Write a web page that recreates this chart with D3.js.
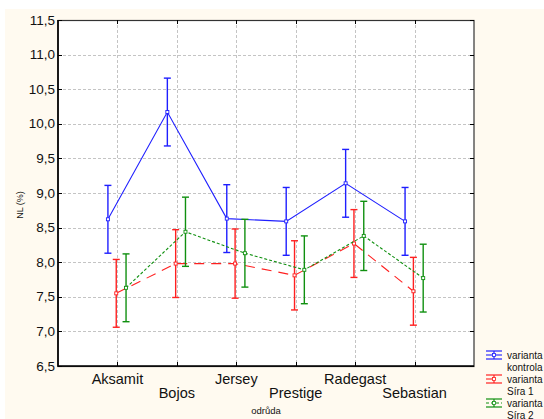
<!DOCTYPE html>
<html>
<head>
<meta charset="utf-8">
<script src="https://cdn.jsdelivr.net/npm/d3@7"></script>
<style>
  body { margin: 0; background: #ffffff; }
  svg { display: block; font-family: "Liberation Sans", Arial, sans-serif; }
</style>
</head>
<body>
<div class="chart"></div>
<script>
"use strict";

const categories = ["Aksamit", "Bojos", "Jersey", "Prestige", "Radegast", "Sebastian"];
const kontrola = [8.62, 10.17, 8.63, 8.59, 9.14, 8.59];
const sira1 = [7.55, 7.98, 7.98, 7.81, 8.27, 7.58];
const sira2 = [7.63, 8.44, 8.13, 7.89, 8.38, 7.77];
const err_kontrola = [0.49, 0.49, 0.49, 0.49, 0.49, 0.49];
const err_sira1 = [0.49, 0.49, 0.50, 0.50, 0.49, 0.49];
const err_sira2 = [0.49, 0.50, 0.49, 0.49, 0.50, 0.49];
const y_ticks = [6.5, 7.0, 7.5, 8.0, 8.5, 9.0, 9.5, 10.0, 10.5, 11.0, 11.5];
const legend_labels = [["varianta", "kontrola"], ["varianta", "Síra 1"], ["varianta", "Síra 2"]];

window.onload = () => main();

function main() {
    const config = {
        width: 544,
        height: 419,
        left: 58, right: 474, top: 20, bottom: 366
    };

    const series = [
        { name: "kontrola", values: kontrola, err: err_kontrola, color: "#1f1fff", dash: null, offset: -0.16 },
        { name: "sira1", values: sira1, err: err_sira1, color: "#ff2020", dash: "10,7", offset: -0.02 },
        { name: "sira2", values: sira2, err: err_sira2, color: "#109010", dash: "3,2", offset: 0.145 }
    ];

    const svg = d3.select(".chart")
        .append("svg")
        .attr("width", config.width)
        .attr("height", config.height);

    // cream background panel
    svg.append("rect")
        .attr("x", 5).attr("y", 9)
        .attr("width", config.width - 5).attr("height", config.height - 9)
        .attr("fill", "#fffaf0");

    const x = d3.scaleLinear().domain([0, categories.length + 1]).range([config.left, config.right]);
    const y = d3.scaleLinear().domain([6.5, 11.5]).range([config.bottom, config.top]);

    svg.append("rect")
        .attr("x", config.left).attr("y", config.top)
        .attr("width", config.right - config.left).attr("height", config.bottom - config.top)
        .attr("fill", "#ffffff");

    // grid
    const grid = svg.append("g").attr("stroke", "#c4c4c4").attr("stroke-dasharray", "3,2").attr("stroke-width", 1);
    grid.selectAll("line.h")
        .data(y_ticks.slice(1, -1))
        .enter().append("line")
        .attr("x1", config.left).attr("x2", config.right)
        .attr("y1", d => Math.round(y(d)) + 0.5).attr("y2", d => Math.round(y(d)) + 0.5);
    grid.selectAll("line.v")
        .data(categories)
        .enter().append("line")
        .attr("x1", (d, i) => Math.round(x(i + 1)) + 0.5).attr("x2", (d, i) => Math.round(x(i + 1)) + 0.5)
        .attr("y1", config.top).attr("y2", config.bottom);

    // frame
    svg.append("rect")
        .attr("x", config.left).attr("y", config.top + 0.5)
        .attr("width", config.right - config.left).attr("height", config.bottom - config.top)
        .attr("fill", "none").attr("stroke", "#333").attr("stroke-width", 1.2);
    svg.append("path")
        .attr("d", `M${config.left},${config.top}V${config.bottom}H${config.right}`)
        .attr("fill", "none").attr("stroke", "#000").attr("stroke-width", 1.6);

    // inside ticks
    const ticks = svg.append("g").attr("stroke", "#000").attr("stroke-width", 1);
    y_ticks.forEach(t => {
        const yy = Math.round(y(t)) + 0.5;
        ticks.append("line").attr("x1", config.left).attr("x2", config.left + 4).attr("y1", yy).attr("y2", yy);
        ticks.append("line").attr("x1", config.right - 4).attr("x2", config.right).attr("y1", yy).attr("y2", yy);
    });
    categories.forEach((c, i) => {
        const xx = Math.round(x(i + 1)) + 0.5;
        ticks.append("line").attr("x1", xx).attr("x2", xx).attr("y1", config.top).attr("y2", config.top + 4);
        ticks.append("line").attr("x1", xx).attr("x2", xx).attr("y1", config.bottom - 4).attr("y2", config.bottom);
    });

    // y tick labels
    svg.append("g").selectAll("text")
        .data(y_ticks)
        .enter().append("text")
        .attr("x", config.left - 3)
        .attr("y", d => y(d) + 4.5)
        .attr("text-anchor", "end")
        .attr("font-size", 13.5)
        .attr("fill", "#111")
        .text(d => d3.format(".1f")(d).replace(".", ","));

    // x tick labels, staggered
    svg.append("g").selectAll("text")
        .data(categories)
        .enter().append("text")
        .attr("x", (d, i) => x(i + 1))
        .attr("y", (d, i) => i % 2 === 0 ? 384 : 398)
        .attr("text-anchor", "middle")
        .attr("font-size", 14.5)
        .attr("fill", "#111")
        .text(d => d);

    svg.append("text")
        .attr("x", 266).attr("y", 414)
        .attr("text-anchor", "middle").attr("font-size", 9.5).attr("fill", "#111")
        .text("odrůda");

    svg.append("text")
        .attr("transform", "translate(23,205) rotate(-90)")
        .attr("text-anchor", "middle").attr("font-size", 9).attr("fill", "#111")
        .text("NL (%)");

    // series
    series.forEach(s => {
        const g = svg.append("g");
        const px = i => x(i + 1 + s.offset);
        const line = d3.line().x((d, i) => px(i)).y(d => y(d));
        g.append("path")
            .datum(s.values)
            .attr("d", line)
            .attr("fill", "none")
            .attr("stroke", s.color)
            .attr("stroke-width", 1.1)
            .attr("stroke-dasharray", s.dash);
        s.values.forEach((v, i) => {
            const xx = px(i);
            const lo = y(v - s.err[i]), hi = y(v + s.err[i]);
            g.append("line").attr("x1", xx).attr("x2", xx).attr("y1", lo).attr("y2", hi)
                .attr("stroke", s.color).attr("stroke-width", 1.4);
            [lo, hi].forEach(yy => {
                g.append("line").attr("x1", xx - 3.5).attr("x2", xx + 3.5).attr("y1", yy).attr("y2", yy)
                    .attr("stroke", s.color).attr("stroke-width", 1.4);
            });
            g.append("rect").attr("x", xx - 1.5).attr("y", y(v) - 1.5).attr("width", 3).attr("height", 3)
                .attr("fill", "#fff").attr("stroke", s.color).attr("stroke-width", 0.9);
        });
    });

    // legend
    const legend = svg.append("g");
    series.forEach((s, k) => {
        const ly = 355 + k * 24;
        const lg = legend.append("g").attr("transform", `translate(486,${ly})`);
        lg.append("line").attr("x1", 0).attr("x2", 16).attr("y1", 0).attr("y2", 0)
            .attr("stroke", s.color).attr("stroke-width", 1.1).attr("stroke-dasharray", s.dash);
        [-4, 4].forEach(dy => lg.append("line").attr("x1", 0).attr("x2", 16).attr("y1", dy).attr("y2", dy)
            .attr("stroke", s.color).attr("stroke-width", 1.2));
        lg.append("line").attr("x1", 8).attr("x2", 8).attr("y1", -4).attr("y2", 4)
            .attr("stroke", s.color).attr("stroke-width", 1.2);
        lg.append("rect").attr("x", 6.5).attr("y", -1.5).attr("width", 3).attr("height", 3)
            .attr("fill", "#fff").attr("stroke", s.color).attr("stroke-width", 0.8);
        legend_labels[k].forEach((t, j) => {
            legend.append("text")
                .attr("x", 507).attr("y", ly + 4 + j * 12)
                .attr("font-size", 10).attr("fill", "#111")
                .text(t);
        });
    });
}
</script>
</body>
</html>
